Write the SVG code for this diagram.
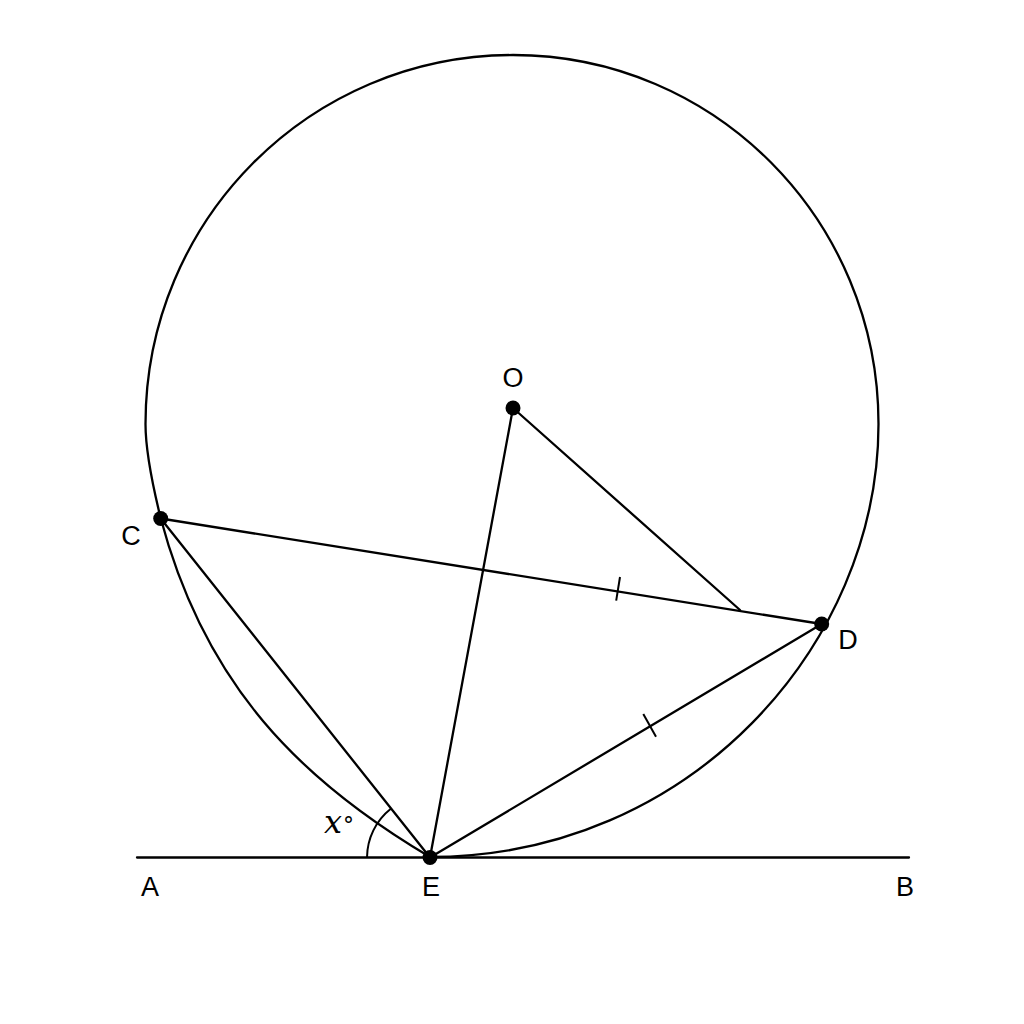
<svg xmlns="http://www.w3.org/2000/svg" width="1024" height="1024" viewBox="0 0 1024 1024">
<style>
.ln{stroke:#000;stroke-width:2.3;fill:none;stroke-linecap:round}
.thin{stroke:#000;stroke-width:2;fill:none}
.pt{fill:#000}
.lbl{font-family:"Liberation Sans",Arial,sans-serif;font-size:27px;fill:#000;text-anchor:middle}
</style>
<rect width="1024" height="1024" fill="#fff"/>
<g id="circle">
<path class="ln" d="M513,55 C715,55 878.5,220 878.5,424 C878.5,645 690,857 430,857 C300,780 205,685 160.7,518.3 C153.5,489 145.5,454 145.5,424 C145.5,220 310,55 513,55"/>
</g>
<g id="connectors">
<line class="ln" x1="137" y1="857.5" x2="909" y2="857.5"/>
<line class="ln" x1="160.7" y1="518.5" x2="821.7" y2="624"/>
<line class="ln" x1="160.7" y1="518.5" x2="430" y2="857.5"/>
<line class="ln" x1="513" y1="408" x2="430" y2="857.5"/>
<line class="ln" x1="513" y1="408" x2="740" y2="610"/>
<line class="ln" x1="430" y1="857.5" x2="821.7" y2="624"/>
<line class="thin" x1="620" y1="577" x2="616.2" y2="600.7"/>
<line class="thin" x1="643.3" y1="714" x2="656" y2="736.7"/>
<path class="thin" d="M367,857.5 A63,63 0 0 1 390.8,808.7"/>
</g>
<g id="O"><circle class="pt" cx="513" cy="408" r="7.5"/><text class="lbl" x="513" y="387">O</text></g>
<g id="C"><circle class="pt" cx="160.7" cy="518.5" r="7.5"/><text class="lbl" x="131" y="545">C</text></g>
<g id="D"><circle class="pt" cx="821.7" cy="624" r="7.5"/><text class="lbl" x="848" y="649">D</text></g>
<g id="E"><circle class="pt" cx="430" cy="857.5" r="7.5"/><text class="lbl" x="431" y="896">E</text></g>
<g id="A"><text class="lbl" x="150" y="896">A</text></g>
<g id="B"><text class="lbl" x="905" y="896">B</text></g>
<g id="angle"><text x="324" y="833" font-family="'DejaVu Serif','Liberation Serif',serif" fill="#000"><tspan font-style="italic" font-size="32">x</tspan><tspan font-size="22" dx="1">°</tspan></text></g>
</svg>
